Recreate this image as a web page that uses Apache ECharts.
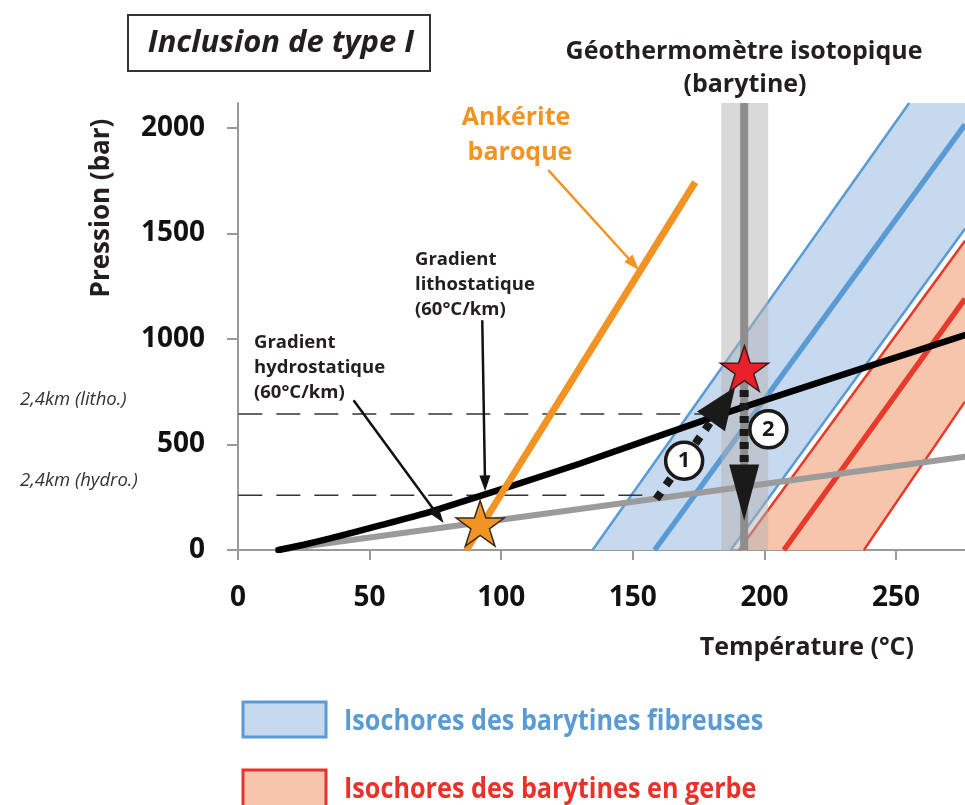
<!DOCTYPE html>
<html><head><meta charset="utf-8">
<script src="https://cdn.jsdelivr.net/npm/echarts@6/dist/echarts.min.js"></script>
<style>html,body{margin:0;padding:0;background:#fff}#c{width:965px;height:805px}</style>
</head><body><div id="c"></div>
<script>
// ---------- data ----------
const xTicks = [0, 50, 100, 150, 200, 250];
const yTicks = [0, 500, 1000, 1500, 2000];
const xRange = [0, 276.2];
const yRange = [0, 2118];

const hydrostatic = [[15, 0], [276.2, 442]];
const lithostatic = [[15.4, 0], [25, 25], [35, 55], [55, 120], [73, 181], [107, 316], [130, 410], [183, 640], [276.2, 1018]];
const ankerite = [[86.8, 0], [173.7, 1743]];

const fibrousBand = [[134.7, 0], [255, 2118], [276.2, 2118], [276.2, 1522], [187.2, 0]];
const fibrousLeft = [[134.7, 0], [255, 2118]];
const fibrousRight = [[187.2, 0], [276.2, 1522]];
const fibrousCenter = [[158.3, 0], [276.2, 2016]];

const gerbeBand = [[190.3, 0], [276.2, 1465], [276.2, 703], [237.8, 0]];
const gerbeLeft = [[190.3, 0], [276.2, 1465]];
const gerbeRight = [[237.8, 0], [276.2, 703]];
const gerbeCenter = [[207.4, 0], [276.2, 1190]];

const isotopeBand = [[183.6, 0], [183.6, 2118], [201.4, 2118], [201.4, 0]];
const isotopeCenter = [[192.3, 0], [192.3, 2118]];

const depthLitho = [[-86.5, 644], [179.6, 644]];
const depthHydro = [[-86.5, 260], [172.9, 260]];

const ankeriteStar = [[92, 126]];
const fluidStar = [[192.4, 860]];

const path1 = { from: [158.9, 241.5], to: [188.9, 772] };
const path2 = { from: [192.3, 758], to: [192.3, 140] };
const pathLabels = [[169.5, 423, '1'], [201.5, 571.6, '2']];

const pointerAnkerite = { from: [117.9, 1800], to: [152.4, 1326] };
const pointerLitho = { from: [92.8, 1089], to: [93.9, 278] };
const pointerHydro = { from: [43.9, 710], to: [78.1, 128] };

// ---------- helpers ----------
const FONT = "'Open Sans', 'DejaVu Sans', sans-serif";
const STAR = 'path://M50,0 L61.8,35.3 L98.9,35.5 L68.9,57.5 L80.2,92.7 L50,71 L19.8,92.7 L31.1,57.5 L1.1,35.5 L38.2,35.3 Z';
let zc = 1;

function polygonSeries(pts, fill) {
  return {
    type: 'custom', silent: true, z: zc++, data: [[pts[0][0], pts[0][1]]],
    renderItem: (p, api) => ({ type: 'polygon', shape: { points: pts.map(d => api.coord(d)) }, style: { fill: fill } })
  };
}
function lineSeries(pts, color, width, extra) {
  return Object.assign({
    type: 'line', data: pts, showSymbol: false, symbol: 'none', silent: true, z: zc++,
    lineStyle: { color: color, width: width }
  }, extra || {});
}
function arrowSeries(list, color, width, dash, headL, headW) {
  return {
    type: 'custom', silent: true, clip: false, z: zc++,
    data: list.map(a => [a.from[0], a.from[1]]),
    renderItem: (p, api) => {
      const a = list[p.dataIndex];
      const p1 = api.coord(a.from), p2 = api.coord(a.to);
      const dx = p2[0] - p1[0], dy = p2[1] - p1[1], len = Math.hypot(dx, dy);
      const ux = dx / len, uy = dy / len, nx = -uy, ny = ux;
      const bx = p2[0] - ux * headL, by = p2[1] - uy * headL;
      return {
        type: 'group', children: [
          { type: 'line', shape: { x1: p1[0], y1: p1[1], x2: bx + ux * 2, y2: by + uy * 2 },
            style: { stroke: color, lineWidth: width, lineDash: dash || null } },
          { type: 'polygon', shape: { points: [[p2[0], p2[1]], [bx + nx * headW / 2, by + ny * headW / 2], [bx - nx * headW / 2, by - ny * headW / 2]] },
            style: { fill: color } }
        ]
      };
    }
  };
}
function txt(text, x, y, size, opts) {
  opts = opts || {};
  return {
    type: 'text', x: x, y: y, rotation: opts.rotation || 0, scaleX: opts.scaleX || 1, z: 100,
    style: {
      text: text, fill: opts.color || '#231f20',
      font: (opts.italic ? 'italic ' : '') + (opts.weight || 'bold') + ' ' + size + 'px ' + FONT,
      align: opts.align || 'left', verticalAlign: 'middle'
    }
  };
}

const series = [
  polygonSeries(fibrousBand, '#c7d9ef'),
  lineSeries(fibrousLeft, '#5b9bd5', 2.5),
  lineSeries(fibrousRight, '#5b9bd5', 2.5),
  lineSeries(fibrousCenter, '#5b9bd5', 5.5),
  polygonSeries(gerbeBand, '#f7c5ab'),
  lineSeries(gerbeLeft, '#e83a2b', 2.5),
  lineSeries(gerbeRight, '#e83a2b', 2.5),
  lineSeries(gerbeCenter, '#e83a2b', 5.5),
  polygonSeries(isotopeBand, 'rgba(180,180,180,0.5)'),
  lineSeries(isotopeCenter, '#8e8e8e', 8),
  lineSeries(depthLitho, '#333333', 1.5, { clip: false, lineStyle: { color: '#333', width: 1.5, type: [24, 14] } }),
  lineSeries(depthHydro, '#333333', 1.5, { clip: false, lineStyle: { color: '#333', width: 1.5, type: [24, 14] } }),
  lineSeries(hydrostatic, '#9b9b9b', 6, { lineStyle: { color: '#9b9b9b', width: 6, cap: 'round' } }),
  lineSeries(lithostatic, '#000000', 6.5, { smooth: 0.2, lineStyle: { color: '#000', width: 6.5, cap: 'round' } }),
  lineSeries(ankerite, '#f29423', 7),
  arrowSeries([pointerAnkerite], '#f29423', 2.5, null, 16, 11),
  arrowSeries([pointerLitho, pointerHydro], '#111111', 2.5, null, 16, 11),
  arrowSeries([path1], '#1a1a1a', 8, [8, 9], 42, 34),
  arrowSeries([path2], '#1a1a1a', 9, [7, 6], 56, 30),
  {
    type: 'scatter', data: pathLabels, symbol: 'circle', symbolSize: 37, silent: true, z: zc++,
    itemStyle: { color: '#ffffff', borderColor: '#1a1a1a', borderWidth: 3.5, opacity: 1 },
    label: { show: true, position: 'inside', formatter: p => p.value[2], fontSize: 22, fontWeight: 'bold', fontFamily: FONT, color: '#1a1a1a' }
  },
  {
    type: 'scatter', data: ankeriteStar, symbol: STAR, symbolKeepAspect: true, symbolSize: 48, silent: true, z: zc++,
    itemStyle: { color: '#f29423', borderColor: '#3b2a1a', borderWidth: 1.5, opacity: 1 }
  },
  {
    type: 'scatter', data: fluidStar, symbol: STAR, symbolKeepAspect: true, symbolSize: 48, silent: true, z: zc++,
    itemStyle: { color: '#e8202a', borderColor: '#3b1a1a', borderWidth: 1.5, opacity: 1 }
  }
];

const chart = echarts.init(document.getElementById('c'), null, { renderer: 'canvas' });
chart.setOption({
  animation: false,
  backgroundColor: '#ffffff',
  grid: { left: 238, top: 103, right: 0, bottom: 255 },
  xAxis: {
    type: 'value', min: xRange[0], max: xRange[1], z: 0,
    axisLine: { lineStyle: { color: '#9a9a9a', width: 2 } },
    axisTick: { show: true, length: 10, lineStyle: { color: '#9a9a9a', width: 2 }, customValues: xTicks },
    axisLabel: { customValues: xTicks, formatter: v => String(v), fontSize: 28, fontWeight: 'bold', fontFamily: FONT, color: '#111', margin: 33, lineHeight: 30 },
    splitLine: { show: false }
  },
  yAxis: {
    type: 'value', min: yRange[0], max: yRange[1], z: 0,
    axisLine: { show: true, lineStyle: { color: '#9a9a9a', width: 2 } },
    axisTick: { show: true, length: 11, lineStyle: { color: '#9a9a9a', width: 2 }, customValues: yTicks },
    axisLabel: { customValues: yTicks, formatter: v => String(v), fontSize: 28, fontWeight: 'bold', fontFamily: FONT, color: '#111', margin: 33 },
    splitLine: { show: false }
  },
  series: series,
  graphic: [
    { type: 'rect', shape: { x: 128, y: 15, width: 302, height: 56 }, style: { fill: 'none', stroke: '#333', lineWidth: 2 }, z: 100 },
    txt('Inclusion de type I', 281, 43, 31, { italic: true, align: 'center' }),
    txt('Géothermomètre isotopique', 744, 52, 25, { align: 'center' }),
    txt('(barytine)', 745, 85, 25, { align: 'center' }),
    txt('Pression (bar)', 102, 208, 26, { align: 'center', rotation: Math.PI / 2 }),
    txt('Température (°C)', 914, 648, 25, { align: 'right' }),
    txt('Ankérite', 516, 118, 25, { align: 'center', color: '#f29423' }),
    txt('baroque', 520, 153, 25, { align: 'center', color: '#f29423' }),
    txt('Gradient', 415, 260, 18.5),
    txt('lithostatique', 415, 285, 18.5),
    txt('(60°C/km)', 415, 310, 18.5),
    txt('Gradient', 254, 343, 18.5),
    txt('hydrostatique', 254, 368, 18.5),
    txt('(60°C/km)', 254, 393, 18.5),
    txt('2,4km (litho.)', 20, 400, 18.5, { italic: true, weight: 'normal', color: '#333' }),
    txt('2,4km (hydro.)', 20, 481, 18.5, { italic: true, weight: 'normal', color: '#333' }),
    { type: 'rect', shape: { x: 243, y: 702, width: 83, height: 35 }, style: { fill: '#c7d9ef', stroke: '#5b9bd5', lineWidth: 3 }, z: 100 },
    txt('Isochores des barytines fibreuses', 344, 722, 28, { color: '#5b9bd5', scaleX: 0.9 }),
    { type: 'rect', shape: { x: 243, y: 770, width: 83, height: 40 }, style: { fill: '#f7c5ab', stroke: '#e8322a', lineWidth: 3 }, z: 100 },
    txt('Isochores des barytines en gerbe', 344, 790, 28, { color: '#e8322a', scaleX: 0.9 })
  ]
});
</script>
</body></html>
